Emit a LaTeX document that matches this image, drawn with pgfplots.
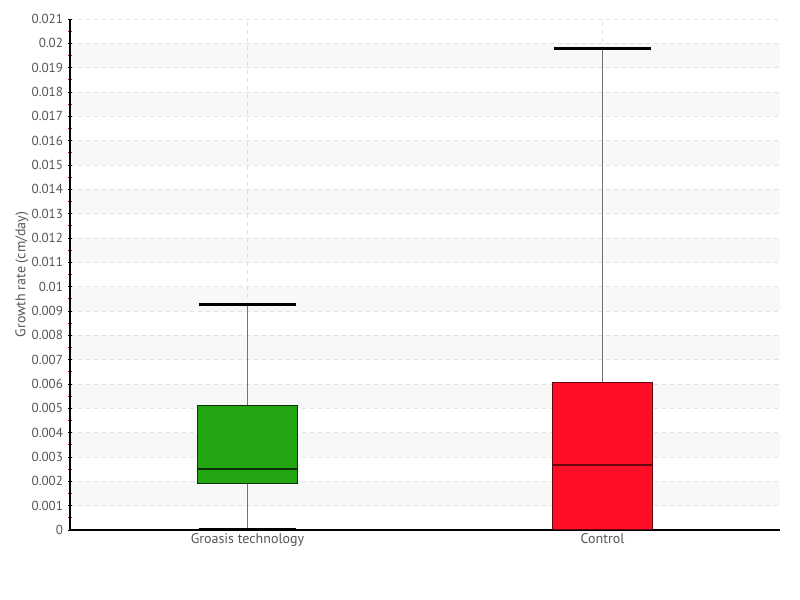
\documentclass[border=0pt]{standalone}
\usepackage{fontspec}
\setmainfont{PT Sans}
\usepackage{pgfplots}
\pgfplotsset{compat=1.18}
\usepgfplotslibrary{statistics}
\definecolor{boxgreen}{HTML}{22A612}
\definecolor{boxred}{HTML}{FF0E28}
\definecolor{txt}{HTML}{555555}
\definecolor{band}{HTML}{F8F8F8}
\definecolor{gridc}{HTML}{E0E0E0}
\begin{document}
\begin{tikzpicture}
\begin{axis}[
  set layers,
  at={(0,0)}, anchor=south west,
  scale only axis, width=532.5pt, height=383.25pt,
  xmin=-0.5, xmax=1.5, ymin=0, ymax=0.021,
  axis x line=bottom, axis y line=left,
  axis line style={black, line width=0.8pt, -},
  xtick={0,1}, xticklabels={Groasis technology, Control},
  x tick label style={font=\fontsize{10.5}{11}\selectfont, text=txt, yshift=2.5pt},
  xtick style={draw=none},
  ytick={0,0.001,...,0.0215},
  scaled y ticks=false,
  yticklabel style={/pgf/number format/fixed, /pgf/number format/precision=3, font=\fontsize{9.8}{10}\selectfont, text=txt},
  /pgf/number format/assume math mode=true,
  minor y tick num=1,
  ytick style={black, line width=0.7pt},
  minor y tick style={red, line width=0.7pt},
  major tick length=3.5pt, minor tick length=2.5pt, tick align=center,
  ymajorgrids, xmajorgrids,
  major grid style={gridc, dashed, line width=0.6pt},
  ylabel={Growth rate (cm/day)},
  every axis y label/.style={at={(axis description cs:0,0.5)}, xshift=-36pt, rotate=90, anchor=center, font=\fontsize{10.5}{11}\selectfont, text=txt},
  boxplot/draw direction=y,
  boxplot/every whisker/.style={draw=black!55, line width=1.1pt},
  boxplot/every median/.style={line width=1pt},
  bandst/.style={fill=band, draw=none, on layer=axis background, forget plot},
]
\addplot[bandst] coordinates {(-0.5,0.001) (1.5,0.001) (1.5,0.002) (-0.5,0.002)} -- cycle;
\addplot[bandst] coordinates {(-0.5,0.003) (1.5,0.003) (1.5,0.004) (-0.5,0.004)} -- cycle;
\addplot[bandst] coordinates {(-0.5,0.005) (1.5,0.005) (1.5,0.006) (-0.5,0.006)} -- cycle;
\addplot[bandst] coordinates {(-0.5,0.007) (1.5,0.007) (1.5,0.008) (-0.5,0.008)} -- cycle;
\addplot[bandst] coordinates {(-0.5,0.009) (1.5,0.009) (1.5,0.010) (-0.5,0.010)} -- cycle;
\addplot[bandst] coordinates {(-0.5,0.011) (1.5,0.011) (1.5,0.012) (-0.5,0.012)} -- cycle;
\addplot[bandst] coordinates {(-0.5,0.013) (1.5,0.013) (1.5,0.014) (-0.5,0.014)} -- cycle;
\addplot[bandst] coordinates {(-0.5,0.015) (1.5,0.015) (1.5,0.016) (-0.5,0.016)} -- cycle;
\addplot[bandst] coordinates {(-0.5,0.017) (1.5,0.017) (1.5,0.018) (-0.5,0.018)} -- cycle;
\addplot[bandst] coordinates {(-0.5,0.019) (1.5,0.019) (1.5,0.020) (-0.5,0.020)} -- cycle;
\addplot[boxplot prepared={lower whisker=0, lower quartile=0.0019, median=0.0025, upper quartile=0.0051, upper whisker=0.00925, draw position=0, box extend=0.28, whisker extend=0, every median/.style={draw=black!70!boxgreen, line width=1pt}}, fill=boxgreen, draw=black!70!boxgreen, line width=0.8pt] coordinates {};
\addplot[boxplot prepared={lower whisker=0, lower quartile=0, median=0.00267, upper quartile=0.00608, upper whisker=0.0198, draw position=1, box extend=0.28, whisker extend=0, every median/.style={draw=black!60!boxred, line width=1pt}}, fill=boxred, draw=black!60!boxred, line width=0.8pt] coordinates {};
\addplot[black, line width=2.2pt] coordinates {(-0.138,0.00925) (0.138,0.00925)};
\addplot[black, line width=2.2pt] coordinates {(-0.138,0.00004) (0.138,0.00004)};
\addplot[black, line width=2.2pt] coordinates {(0.862,0.0198) (1.138,0.0198)};
\end{axis}
\path (-52.5pt,-52.5pt) rectangle (547.5pt,397.5pt);
\end{tikzpicture}
\end{document}
